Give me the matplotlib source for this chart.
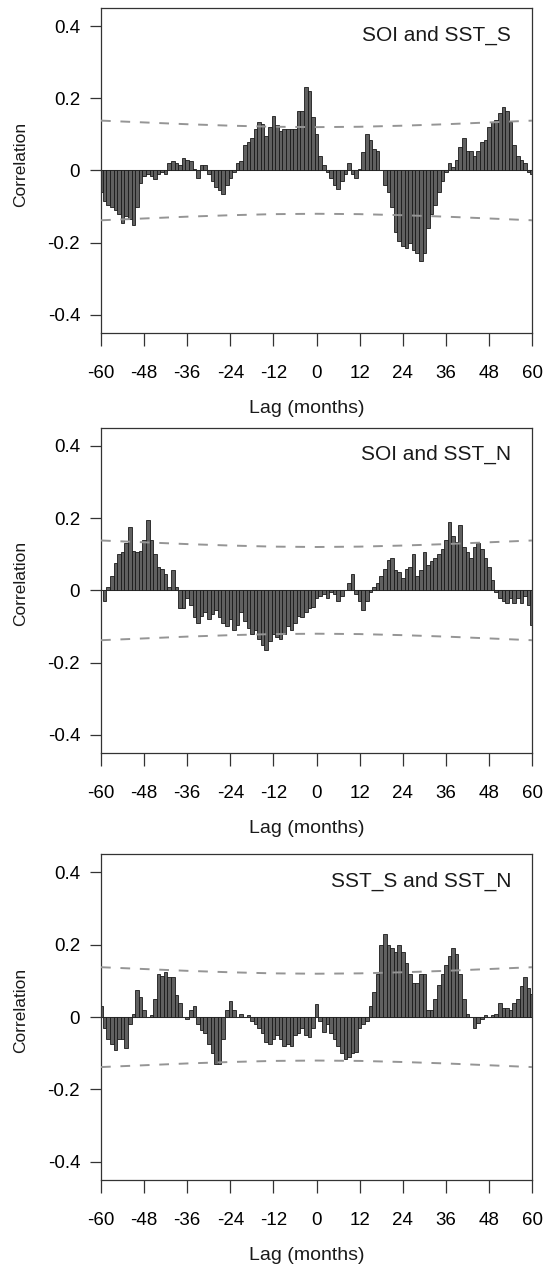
import numpy as np
import matplotlib
matplotlib.use('Agg')
import matplotlib.pyplot as plt

plt.rcParams['font.family'] = ['Liberation Sans', 'DejaVu Sans']

lags = np.arange(-60, 61)

# cross-correlations, lag -60 .. 60
soi_sst_s = [
  -0.06, -0.085, -0.095, -0.10, -0.11, -0.12, -0.145, -0.125, -0.135, -0.15,
  -0.10, -0.035, -0.015, -0.01, -0.015, -0.025, -0.01, -0.005, -0.01, 0.02,
  0.025, 0.02, 0.015, 0.035, 0.03, 0.025, 0.005, -0.02, 0.015, 0.015,
  -0.01, -0.03, -0.045, -0.055, -0.065, -0.04, -0.02, -0.005, 0.02, 0.025,
  0.07, 0.08, 0.09, 0.115, 0.135, 0.13, 0.095, 0.12, 0.15, 0.125,
  0.11, 0.115, 0.115, 0.115, 0.115, 0.165, 0.165, 0.23, 0.22, 0.147,
  0.10, 0.04, 0.015, -0.005, -0.02, -0.04, -0.05, -0.03, -0.01, 0.02,
  -0.01, -0.02, 0.005, 0.05, 0.10, 0.085, 0.06, 0.055, 0.0, -0.04,
  -0.06, -0.10, -0.17, -0.195, -0.21, -0.215, -0.20, -0.22, -0.23, -0.25,
  -0.23, -0.16, -0.12, -0.095, -0.06, -0.03, -0.005, 0.02, 0.01, 0.03,
  0.065, 0.09, 0.055, 0.055, 0.04, 0.055, 0.08, 0.085, 0.12, 0.135,
  0.14, 0.16, 0.175, 0.165, 0.135, 0.07, 0.04, 0.03, 0.02, -0.005, -0.01]

soi_sst_n = [
  0.0, -0.03, 0.01, 0.04, 0.075, 0.10, 0.105, 0.13, 0.175, 0.11,
  0.105, 0.11, 0.14, 0.195, 0.14, 0.10, 0.065, 0.06, 0.045, 0.01,
  0.055, 0.01, -0.05, -0.05, -0.02, -0.04, -0.075, -0.09, -0.07, -0.06,
  -0.08, -0.065, -0.055, -0.075, -0.09, -0.10, -0.08, -0.11, -0.095, -0.06,
  -0.085, -0.105, -0.12, -0.11, -0.135, -0.15, -0.165, -0.14, -0.12, -0.13,
  -0.135, -0.12, -0.10, -0.11, -0.09, -0.07, -0.075, -0.06, -0.05, -0.045,
  -0.02, -0.015, -0.01, -0.02, -0.005, -0.01, -0.03, -0.015, 0.0, 0.02,
  0.045, -0.01, -0.03, -0.055, -0.03, -0.005, 0.01, 0.02, 0.04, 0.06,
  0.085, 0.09, 0.055, 0.05, 0.035, 0.06, 0.065, 0.10, 0.04, 0.055,
  0.105, 0.07, 0.08, 0.09, 0.10, 0.115, 0.14, 0.19, 0.15, 0.135,
  0.18, 0.12, 0.105, 0.09, 0.12, 0.13, 0.115, 0.09, 0.065, 0.03,
  -0.005, -0.02, -0.03, -0.035, -0.02, -0.035, -0.02, -0.035, -0.015, -0.04, -0.095]

sst_s_sst_n = [
  0.03, -0.03, -0.06, -0.075, -0.09, -0.06, -0.06, -0.085, -0.02, 0.01,
  0.075, 0.055, 0.02, 0.0, 0.005, 0.05, 0.12, 0.115, 0.125, 0.11,
  0.11, 0.06, 0.04, 0.0, -0.005, 0.02, 0.03, -0.02, -0.035, -0.045,
  -0.075, -0.10, -0.13, -0.13, -0.06, 0.02, 0.045, 0.02, 0.0, 0.01,
  0.0, 0.005, -0.01, -0.02, -0.03, -0.045, -0.07, -0.075, -0.06, -0.05,
  -0.06, -0.08, -0.075, -0.08, -0.05, -0.045, -0.03, -0.05, -0.055, -0.03,
  0.035, -0.01, -0.04, -0.02, -0.045, -0.06, -0.08, -0.10, -0.115, -0.11,
  -0.10, -0.095, -0.03, -0.02, -0.01, 0.03, 0.07, 0.12, 0.20, 0.23,
  0.20, 0.19, 0.18, 0.20, 0.18, 0.15, 0.12, 0.095, 0.095, 0.12,
  0.12, 0.02, 0.02, 0.05, 0.09, 0.12, 0.145, 0.17, 0.19, 0.175,
  0.12, 0.05, 0.01, 0.0, -0.03, -0.015, -0.005, 0.005, 0.0, 0.005,
  0.01, 0.04, 0.025, 0.025, 0.02, 0.04, 0.05, 0.085, 0.11, 0.08, 0.065]

# approximate significance bounds (dashed lines)
bound_lags = [-60, -48, -36, -24, -12, 0, 12, 24, 36, 48, 60]
bound_vals = [0.138, 0.133, 0.128, 0.124, 0.121, 0.12, 0.121, 0.124, 0.128, 0.133, 0.138]

series = [soi_sst_s, soi_sst_n, sst_s_sst_n]
titles = ['SOI and SST_S', 'SOI and SST_N', 'SST_S and SST_N']
xticks = np.arange(-60, 61, 12)
yticks = [-0.4, -0.2, 0, 0.2, 0.4]
ytick_labels = ['-0.4', '-0.2', '0', '0.2', '0.4']

fig = plt.figure(figsize=(5.43, 12.64), dpi=100)

# axes boxes in figure fractions (left, bottom, width, height)
boxes = [[0.186, 0.7366, 0.794, 0.2571],
         [0.186, 0.4043, 0.794, 0.2573],
         [0.186, 0.0665, 0.794, 0.2576]]

for vals, title, box in zip(series, titles, boxes):
  ax = fig.add_axes(box)
  ax.axhline(0, color='#8a8a8a', lw=0.8, zorder=1)
  ax.bar(lags, vals, width=1.0, color='#606060', edgecolor='#1a1a1a',
         linewidth=0.6, zorder=2)
  ax.plot(bound_lags, bound_vals, color='#959595', lw=1.4, ls=(0, (5, 5)), zorder=3)
  ax.plot(bound_lags, [-v for v in bound_vals], color='#959595', lw=1.4,
          ls=(0, (5, 5)), zorder=3)

  ax.set_xlim(-60, 60)
  ax.set_ylim(-0.45, 0.45)
  ax.set_xticks(xticks)
  ax.set_xticklabels([str(t) for t in xticks])
  ax.set_yticks(yticks)
  ax.set_yticklabels(ytick_labels)
  ax.tick_params(axis='x', direction='out', length=9, width=0.9,
                 color='#333333', labelsize=13.5, pad=14)
  ax.tick_params(axis='y', direction='out', length=8, width=0.9,
                 color='#333333', labelsize=13.5, pad=7)
  for sp in ax.spines.values():
    sp.set_color('#333333')
    sp.set_linewidth(0.9)

  ax.text(0.951, 0.917, title, transform=ax.transAxes, ha='right',
          va='center', fontsize=15, color='#1a1a1a')

  ax.set_xlabel('Lag (months)', fontsize=14, color='#1a1a1a')
  ax.xaxis.set_label_coords(0.478, -0.207)
  ax.set_ylabel('Correlation', fontsize=12.5, color='#1a1a1a')
  ax.yaxis.set_label_coords(-0.17, 0.52)

fig.savefig('out.png', dpi=100)
plt.close(fig)
